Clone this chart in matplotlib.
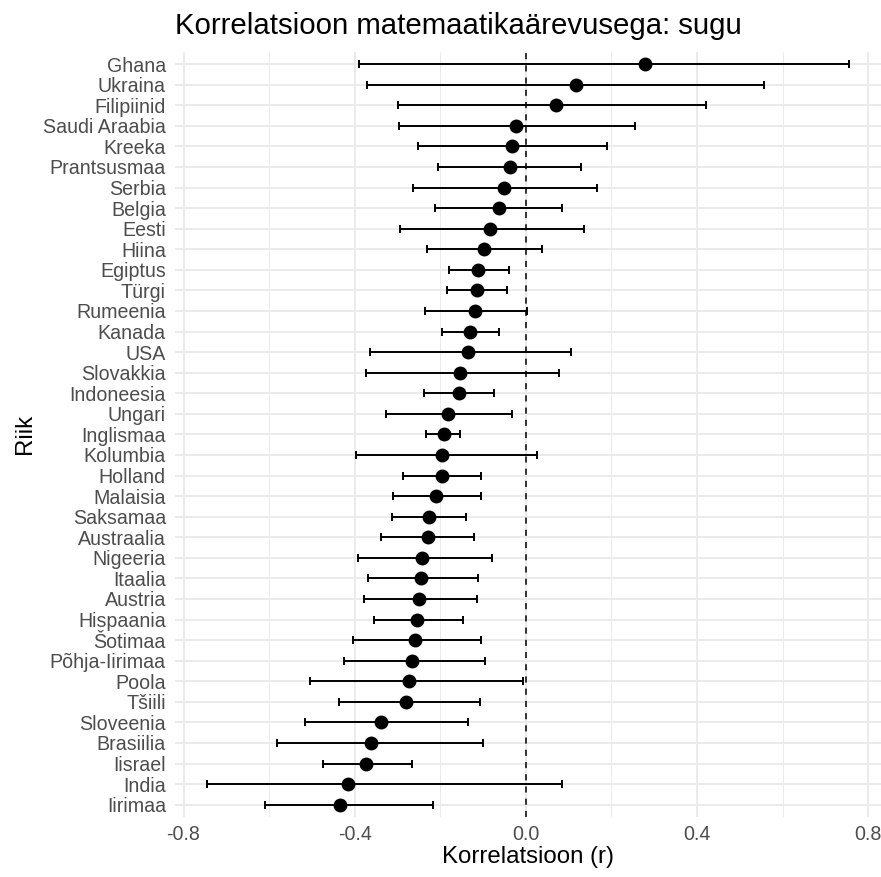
import numpy as np
import matplotlib.pyplot as plt

plt.rcParams['font.family'] = ['Liberation Sans', 'DejaVu Sans']

countries = ['Ghana', 'Ukraina', 'Filipiinid', 'Saudi Araabia', 'Kreeka', 'Prantsusmaa',
             'Serbia', 'Belgia', 'Eesti', 'Hiina', 'Egiptus', 'Türgi', 'Rumeenia', 'Kanada',
             'USA', 'Slovakkia', 'Indoneesia', 'Ungari', 'Inglismaa', 'Kolumbia', 'Holland',
             'Malaisia', 'Saksamaa', 'Austraalia', 'Nigeeria', 'Itaalia', 'Austria',
             'Hispaania', 'Šotimaa', 'Põhja-Iirimaa', 'Poola', 'Tšiili', 'Sloveenia',
             'Brasiilia', 'Iisrael', 'India', 'Iirimaa']
r = [0.279, 0.118, 0.071, -0.023, -0.032, -0.038, -0.051, -0.063, -0.084, -0.097,
     -0.111, -0.113, -0.118, -0.130, -0.135, -0.155, -0.157, -0.183, -0.192, -0.195,
     -0.197, -0.210, -0.227, -0.229, -0.243, -0.244, -0.250, -0.255, -0.260, -0.267,
     -0.274, -0.280, -0.338, -0.363, -0.374, -0.415, -0.434]
lo = [-0.389, -0.371, -0.299, -0.297, -0.252, -0.206, -0.264, -0.212, -0.295, -0.230,
      -0.179, -0.184, -0.236, -0.196, -0.364, -0.373, -0.239, -0.327, -0.233, -0.396,
      -0.287, -0.311, -0.313, -0.339, -0.392, -0.369, -0.379, -0.355, -0.403, -0.426,
      -0.504, -0.437, -0.515, -0.581, -0.475, -0.745, -0.609]
hi = [0.755, 0.556, 0.421, 0.255, 0.190, 0.130, 0.166, 0.084, 0.135, 0.037,
      -0.040, -0.044, 0.002, -0.062, 0.106, 0.078, -0.075, -0.032, -0.153, 0.025,
      -0.105, -0.104, -0.140, -0.120, -0.080, -0.111, -0.113, -0.147, -0.105, -0.095,
      -0.007, -0.107, -0.135, -0.100, -0.267, 0.084, -0.217]

r = np.array(r)
lo = np.array(lo)
hi = np.array(hi)
y = np.arange(len(countries))[::-1]

fig = plt.figure(figsize=(8.81, 8.77), dpi=100)
ax = fig.add_axes([0.1986, 0.0684, 0.8014, 0.8726])

ax.set_xticks([-0.8, -0.4, 0.0, 0.4, 0.8])
ax.set_xticks([-0.6, -0.2, 0.2, 0.6], minor=True)
ax.grid(True, which='major', color='#EBEBEB', linewidth=1.4)
ax.grid(True, which='minor', axis='x', color='#EBEBEB', linewidth=0.7)
ax.set_axisbelow(True)

ax.axvline(0, color='black', linestyle=(0, (4, 4)), linewidth=1.1, zorder=2)
ax.errorbar(r, y, xerr=[r - lo, hi - r], fmt='none', ecolor='black',
            elinewidth=1.4, capsize=3, capthick=1.4, zorder=3)
ax.plot(r, y, 'o', color='black', markersize=9, zorder=4)

ax.set_yticks(y)
ax.set_yticklabels(countries)
ax.set_xticklabels(['-0.8', '-0.4', '0.0', '0.4', '0.8'])
ax.set_xlim(-0.82, 0.83)
ax.set_ylim(-0.6, len(countries) - 0.4)

for s in ax.spines.values():
    s.set_visible(False)
ax.tick_params(length=0, labelsize=14.1, labelcolor='#4D4D4D')
ax.tick_params(axis='y', pad=6.5)
ax.tick_params(axis='x', pad=6)
ax.tick_params(which='minor', length=0)

ax.set_xlabel('Korrelatsioon (r)', fontsize=17.3, labelpad=1)
ax.set_ylabel('Riik', fontsize=17.3, labelpad=5)
ax.set_title('Korrelatsioon matemaatikaärevusega: sugu', fontsize=21.2, loc='left', pad=13)

fig.savefig('out.png', dpi=100)
